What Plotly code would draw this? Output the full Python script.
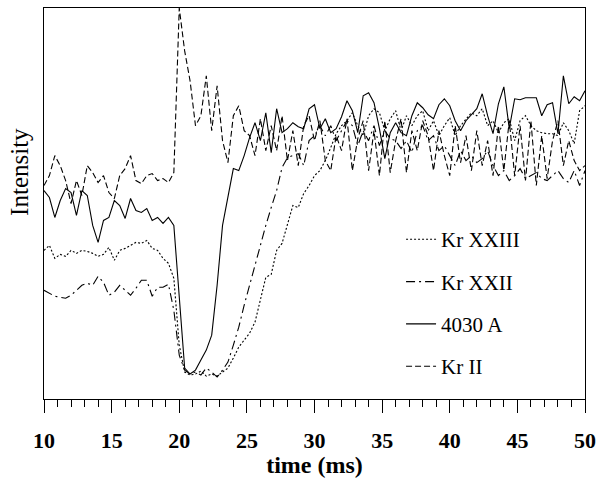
import numpy as np
import plotly.graph_objects as go

# time axis (ms)
time_ms = [round(10 + 0.4 * i, 1) for i in range(101)]

# Intensity (arbitrary units)
kr_xxiii = [149, 154, 141, 145, 143, 149, 146, 149, 148, 146,
            143, 145, 152, 139, 149, 151, 154, 157, 156, 159,
            151, 149, 141, 136, 121, 54, 27, 24, 25, 28,
            23, 25, 23, 27, 31, 41, 52, 59, 66, 77,
            99, 122, 125, 149, 156, 174, 194, 192, 206, 214,
            224, 229, 239, 252, 266, 274, 279, 287, 274, 264,
            284, 291, 287, 269, 281, 289, 269, 284, 274, 284,
            289, 269, 279, 264, 274, 282, 264, 274, 281, 287,
            284, 291, 274, 279, 267, 277, 281, 259, 279, 284,
            274, 269, 267, 266, 266, 264, 277, 269, 256, 289,
            294]

kr_xxii = [109, 106, 103, 102, 101, 104, 109, 114, 116, 114,
           123, 117, 104, 107, 114, 109, 104, 111, 119, 119,
           103, 112, 112, 115, 89, 44, 29, 25, 27, 24,
           31, 27, 22, 29, 37, 54, 72, 94, 114, 136,
           154, 174, 192, 209, 232, 242, 244, 246, 234, 259,
           264, 274, 264, 274, 259, 269, 279, 274, 254, 269,
           259, 274, 254, 269, 261, 259, 251, 259, 247, 269,
           274, 259, 264, 249, 254, 244, 234, 249, 239, 244,
           237, 241, 249, 234, 224, 229, 219, 224, 231, 221,
           224, 227, 221, 219, 224, 229, 221, 217, 229, 214,
           229]

line_4030 = [209, 202, 182, 199, 211, 207, 184, 209, 204, 174,
             157, 179, 182, 199, 194, 181, 201, 189, 187, 191,
             179, 182, 176, 182, 174, 99, 31, 25, 29, 39,
             49, 64, 114, 174, 201, 231, 229, 244, 262, 277,
             259, 287, 247, 291, 267, 271, 277, 273, 271, 291,
             295, 271, 281, 267, 271, 283, 299, 289, 267, 304,
             307, 297, 271, 241, 267, 277, 267, 264, 284, 297,
             292, 285, 281, 295, 301, 294, 279, 269, 279, 285,
             291, 306, 284, 266, 296, 313, 271, 301, 300, 302,
             302, 302, 284, 295, 297, 266, 324, 296, 303, 299,
             309]

kr_ii = [214, 224, 244, 234, 219, 196, 219, 204, 234, 227,
         217, 224, 207, 201, 224, 231, 244, 219, 216, 224,
         226, 219, 221, 217, 227, 392, 349, 319, 274, 284,
         324, 269, 314, 259, 237, 284, 294, 269, 264, 244,
         281, 249, 274, 249, 284, 239, 269, 234, 274, 284,
         259, 279, 239, 229, 264, 249, 281, 229, 261, 279,
         229, 269, 224, 279, 227, 259, 281, 227, 269, 249,
         279, 264, 229, 269, 244, 224, 274, 237, 264, 229,
         269, 234, 259, 224, 274, 229, 279, 224, 274, 219,
         279, 214, 264, 221, 259, 279, 234, 259, 239, 229,
         234]

series_names = ["Kr XXIII", "Kr XXII", "4030 A", "Kr II"]
series_values = [kr_xxiii, kr_xxii, line_4030, kr_ii]
series_dash = ["2px,2px", "9px,4px,2px,4px", "solid", "6px,3px"]

x_ticks = [10, 15, 20, 25, 30, 35, 40, 45, 50]

FONT = "Liberation Serif"

fig = go.Figure()
for i, (name, vals, dash) in enumerate(zip(series_names, series_values, series_dash)):
    fig.add_trace(go.Scatter(
        x=time_ms, y=vals, mode="lines", name=name,
        legendgroup=f"g{i}",
        line=dict(color="black", width=1.1, dash=dash),
    ))

fig.update_layout(
    width=603, height=483,
    margin=dict(l=44, r=15, t=7, b=84),
    paper_bgcolor="white", plot_bgcolor="white",
    font=dict(family=FONT, color="black"),
    showlegend=True,
    legend=dict(
        x=0.66, y=0.46, xanchor="left", yanchor="top",
        bgcolor="rgba(0,0,0,0)",
        font=dict(family=FONT, size=21, color="black"),
        tracegroupgap=12,
    ),
    xaxis=dict(
        range=[10, 50],
        tickvals=x_ticks,
        ticktext=[str(v) for v in x_ticks],
        ticks="outside", ticklen=13, tickwidth=1, tickcolor="black",
        minor=dict(dtick=1, ticks="outside", ticklen=7, tickwidth=1, tickcolor="black"),
        showline=True, linecolor="black", linewidth=1.2, mirror=True,
        showgrid=False, zeroline=False,
        ticklabelstandoff=8,
        tickfont=dict(family=FONT, size=22, color="black", weight="bold"),
        title=dict(text="time (ms)", font=dict(family=FONT, size=24, color="black", weight="bold"),
                   standoff=4),
    ),
    yaxis=dict(
        range=[0, 392],
        showticklabels=False, ticks="",
        showline=True, linecolor="black", linewidth=1.2, mirror=True,
        showgrid=False, zeroline=False,
    ),
    annotations=[dict(
        text="Intensity", textangle=-90, xref="paper", yref="paper",
        x=-0.045, y=0.58, xanchor="center", yanchor="middle", showarrow=False,
        font=dict(family=FONT, size=25, color="black"),
    )],
)

fig.write_html("out.html", config={"displayModeBar": False},
               post_script="document.body.style.margin='0px';")
